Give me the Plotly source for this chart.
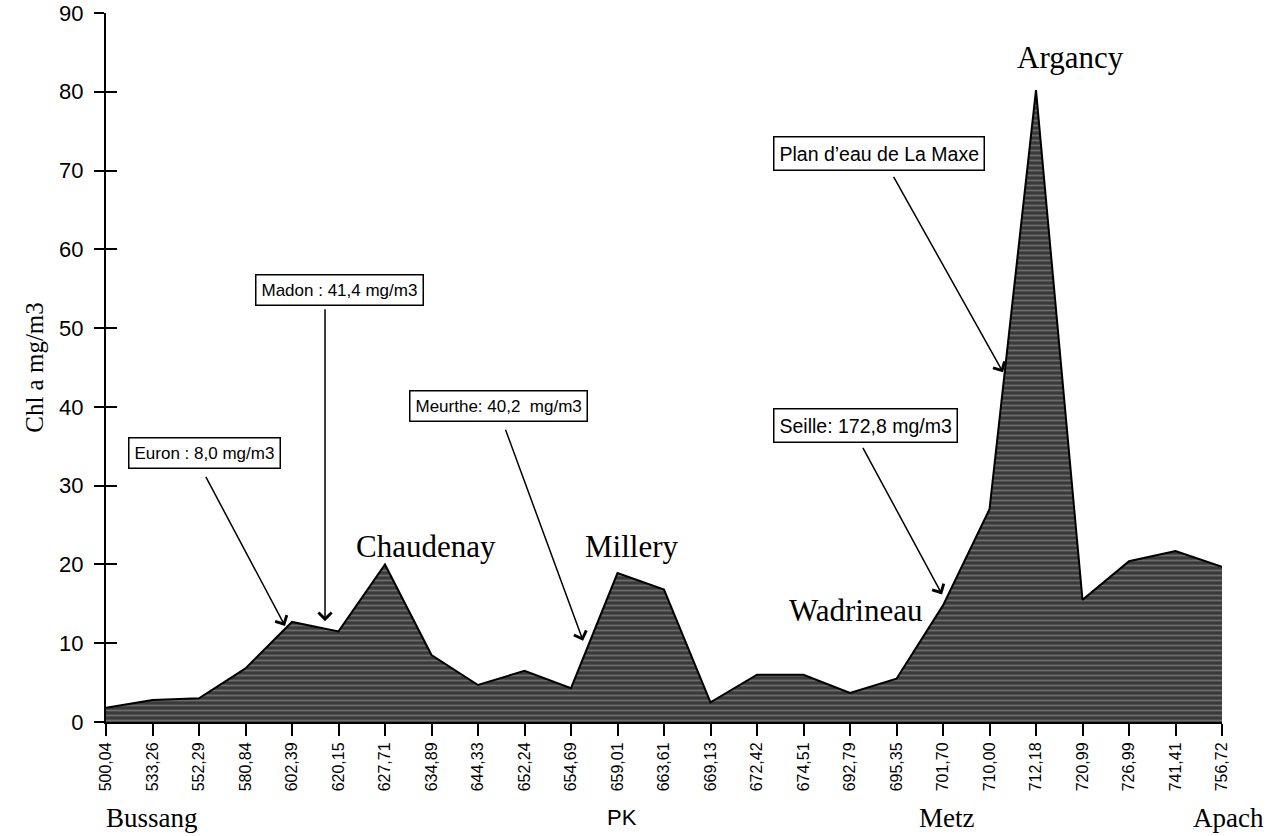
import plotly.graph_objects as go

# PK stations along the Moselle and chlorophyll a (mg/m3)
pk = ['500,04', '533,26', '552,29', '580,84', '602,39', '620,15', '627,71',
      '634,89', '644,33', '652,24', '654,69', '659,01', '663,61', '669,13',
      '672,42', '674,51', '692,79', '695,35', '701,70', '710,00', '712,18',
      '720,99', '726,99', '741,41', '756,72']
chl = [1.8, 2.8, 3.0, 6.8, 12.7, 11.5, 20.0, 8.5, 4.7, 6.5, 4.3, 18.9, 16.8,
       2.5, 6.0, 6.0, 3.7, 5.5, 14.8, 27.0, 80.2, 15.5, 20.4, 21.7, 19.7]

y_ticks = [0, 10, 20, 30, 40, 50, 60, 70, 80, 90]

# tributary boxes: text, font size, box centre (x index, y), arrow tail, arrow tip
inputs = [
    ('Euron : 8,0 mg/m3', 17, 2.11, 34.1, 2.13, 31.3, 3.85, 12.2),
    ('Madon : 41,4 mg/m3', 17, 5.03, 54.9, 4.71, 52.6, 4.71, 12.8),
    ('Meurthe: 40,2  mg/m3', 17, 8.43, 40.1, 8.58, 37.3, 10.26, 10.3),
    ('Seille: 172,8 mg/m3', 19.5, 16.34, 37.7, 16.26, 35.0, 17.98, 16.2),
    ('Plan d\u2019eau de La Maxe', 19.5, 16.62, 72.2, 16.92, 69.4, 19.29, 44.4),
]

# site names on the profile
sites = [('Chaudenay', 6.88, 22.3), ('Millery', 11.31, 22.3),
         ('Wadrineau', 16.13, 14.2), ('Argancy', 20.75, 84.3)]

# names under the axis (fraction of plot width)
towns = [('Bussang', 0.041), ('Metz', 0.753), ('Apach', 1.006)]

serif = 'Liberation Serif, Times New Roman, serif'
sans = 'Liberation Sans, Arial, sans-serif'

fig = go.Figure()

fig.add_trace(go.Scatter(
    x=pk,
    y=chl,
    mode='lines',
    fill='tozeroy',
    line=dict(color='black', width=2),
    fillcolor='#4a4a4a',
    fillpattern=dict(shape='-', fgcolor='#a0a0a0', bgcolor='#3a3a3a',
                     size=5, solidity=0.35),
    showlegend=False,
    hoverinfo='x+y'
))

# same series on the overlay axis, drawn with no marks, so its inner ticks show
fig.add_trace(go.Scatter(x=pk, y=chl, yaxis='y2', mode='none',
                         showlegend=False, hoverinfo='skip'))

for text, fs, bx, by, tx, ty, hx, hy in inputs:
    fig.add_annotation(x=bx, y=by, text=text, showarrow=False,
                       font=dict(family=sans, size=fs, color='black'),
                       bgcolor='white', bordercolor='black', borderwidth=1.5,
                       borderpad=5)
    fig.add_annotation(x=hx, y=hy, ax=tx, ay=ty, axref='x', ayref='y',
                       text='', showarrow=True, arrowhead=4, arrowsize=1.7,
                       arrowwidth=1.5, arrowcolor='black')

for name, sx, sy in sites:
    fig.add_annotation(x=sx, y=sy, text=name, showarrow=False,
                       font=dict(family=serif, size=31, color='black'))

for name, tx in towns:
    fig.add_annotation(x=tx, y=-0.1354, xref='paper', yref='paper', text=name,
                       showarrow=False, xanchor='center', yanchor='middle',
                       font=dict(family=serif, size=27, color='black'))

fig.add_annotation(x=0.4624, y=-0.1354, xref='paper', yref='paper', text='PK',
                   showarrow=False, xanchor='center', yanchor='middle',
                   font=dict(family=sans, size=22, color='black'))

fig.update_layout(
    width=1269,
    height=836,
    margin=dict(l=106, r=47, t=13, b=114, autoexpand=False),
    paper_bgcolor='white',
    plot_bgcolor='white',
    xaxis=dict(
        type='category',
        range=[0, len(pk) - 1],
        automargin=False,
        showgrid=False,
        zeroline=False,
        showline=True,
        linecolor='black',
        linewidth=2,
        ticks='outside',
        ticklen=12,
        tickwidth=2,
        tickcolor='black',
        tickangle=-90,
        ticklabeloverflow='allow',
        tickfont=dict(family=sans, size=16, color='black'),
    ),
    yaxis=dict(
        range=[0, 90],
        tickvals=y_ticks,
        automargin=False,
        showgrid=False,
        zeroline=False,
        showline=True,
        linecolor='black',
        linewidth=2,
        ticks='outside',
        ticklen=10,
        tickwidth=1.5,
        tickcolor='black',
        ticklabelstandoff=6,
        ticklabeloverflow='allow',
        tickfont=dict(family=sans, size=22, color='black'),
        title=dict(text='Chl a mg/m3', font=dict(family=serif, size=25, color='black'),
                   standoff=8),
    ),
    yaxis2=dict(
        range=[0, 90],
        tickvals=y_ticks,
        overlaying='y',
        side='left',
        automargin=False,
        showgrid=False,
        zeroline=False,
        showline=False,
        showticklabels=False,
        ticks='inside',
        ticklen=11,
        tickwidth=1.5,
        tickcolor='black',
    ),
)

# drop the default page margin so the figure sits at the window's corner
fig.write_html('out.html', config={'displayModeBar': False},
               post_script="document.body.style.margin='0';")
